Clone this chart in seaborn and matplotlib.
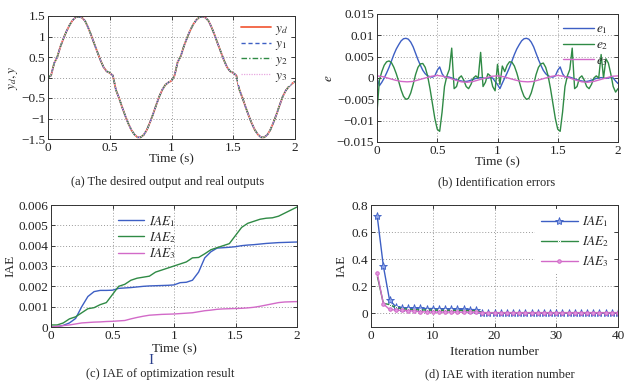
import numpy as np
import pandas as pd
import matplotlib
matplotlib.use("Agg")
import matplotlib.pyplot as plt
import seaborn as sns

# ---------------- data ----------------
# (a) outputs, t = 0 .. 2 step 0.025
t_a = [round(i * 0.025, 3) for i in range(81)]
y_d = [0.00, 0.05, 0.35, 0.50, 0.75, 0.95, 1.13, 1.28, 1.40, 1.47,
       1.49, 1.46, 1.38, 1.22, 1.03, 0.82, 0.62, 0.42, 0.25, 0.15,
       0.11, 0.05, -0.30, -0.50, -0.72, -0.93, -1.12, -1.28, -1.39, -1.46,
       -1.46, -1.40, -1.28, -1.10, -0.90, -0.68, -0.47, -0.30, -0.18, -0.12,
       -0.08, 0.05, 0.38, 0.52, 0.76, 0.96, 1.14, 1.29, 1.40, 1.47,
       1.49, 1.46, 1.38, 1.22, 1.03, 0.82, 0.62, 0.42, 0.25, 0.15,
       0.11, 0.05, -0.30, -0.50, -0.72, -0.93, -1.12, -1.28, -1.39, -1.46,
       -1.46, -1.40, -1.28, -1.10, -0.90, -0.68, -0.47, -0.32, -0.22, -0.15,
       -0.10]
y_1 = [0.00, 0.05, 0.35, 0.50, 0.75, 0.95, 1.13, 1.28, 1.40, 1.47,
       1.48, 1.46, 1.38, 1.22, 1.03, 0.82, 0.62, 0.42, 0.25, 0.15,
       0.11, 0.05, -0.30, -0.50, -0.72, -0.93, -1.12, -1.28, -1.39, -1.46,
       -1.46, -1.40, -1.28, -1.10, -0.90, -0.68, -0.47, -0.30, -0.18, -0.12,
       -0.08, 0.05, 0.38, 0.52, 0.76, 0.96, 1.14, 1.29, 1.40, 1.47,
       1.48, 1.46, 1.38, 1.22, 1.03, 0.82, 0.62, 0.42, 0.25, 0.15,
       0.11, 0.05, -0.30, -0.50, -0.72, -0.93, -1.12, -1.28, -1.39, -1.46,
       -1.46, -1.40, -1.28, -1.10, -0.90, -0.68, -0.47, -0.32, -0.22, -0.15,
       -0.10]
y_2 = [0.00, 0.05, 0.35, 0.50, 0.75, 0.95, 1.13, 1.28, 1.40, 1.47,
       1.49, 1.46, 1.38, 1.22, 1.03, 0.82, 0.62, 0.42, 0.25, 0.15,
       0.12, 0.05, -0.30, -0.50, -0.72, -0.93, -1.12, -1.28, -1.39, -1.46,
       -1.46, -1.40, -1.28, -1.10, -0.90, -0.68, -0.47, -0.30, -0.18, -0.12,
       -0.08, 0.05, 0.38, 0.52, 0.76, 0.96, 1.14, 1.29, 1.40, 1.47,
       1.49, 1.46, 1.38, 1.22, 1.03, 0.82, 0.62, 0.42, 0.25, 0.15,
       0.12, 0.05, -0.30, -0.50, -0.72, -0.93, -1.12, -1.28, -1.39, -1.46,
       -1.46, -1.40, -1.28, -1.10, -0.90, -0.68, -0.47, -0.32, -0.22, -0.15,
       -0.10]
y_3 = [0.00, 0.05, 0.35, 0.50, 0.75, 0.95, 1.13, 1.28, 1.40, 1.47,
       1.49, 1.46, 1.38, 1.22, 1.03, 0.82, 0.62, 0.42, 0.25, 0.15,
       0.11, 0.05, -0.30, -0.50, -0.72, -0.93, -1.12, -1.28, -1.39, -1.46,
       -1.46, -1.40, -1.28, -1.10, -0.90, -0.68, -0.47, -0.30, -0.18, -0.12,
       -0.08, 0.05, 0.38, 0.52, 0.76, 0.96, 1.14, 1.29, 1.40, 1.47,
       1.49, 1.46, 1.38, 1.22, 1.03, 0.82, 0.62, 0.42, 0.25, 0.15,
       0.11, 0.05, -0.30, -0.50, -0.72, -0.93, -1.12, -1.28, -1.39, -1.46,
       -1.46, -1.40, -1.28, -1.10, -0.90, -0.68, -0.47, -0.32, -0.22, -0.15,
       -0.10]

# (b) identification errors, t = 0 .. 2 step 0.02
t_b = [round(i * 0.02, 2) for i in range(101)]
e_1 = [0.0000, -0.0018, -0.0010, 0.0000, 0.0012, 0.0025, 0.0040, 0.0055, 0.0068, 0.0078,
       0.0087, 0.0092, 0.0093, 0.0091, 0.0084, 0.0073, 0.0058, 0.0043, 0.0030, 0.0018,
       0.0010, 0.0005, 0.0003, 0.0002, 0.0005, 0.0018, 0.0026, 0.0010, 0.0002, 0.0003,
       0.0002, 0.0000, -0.0002, -0.0004, -0.0006, -0.0007, -0.0008, -0.0008, -0.0007, -0.0005,
       -0.0003, -0.0001, 0.0000, 0.0001, 0.0000, -0.0001, 0.0000, 0.0001, 0.0000, -0.0008,
       -0.0015, -0.0025, -0.0012, 0.0000, 0.0012, 0.0025, 0.0040, 0.0055, 0.0068, 0.0078,
       0.0087, 0.0092, 0.0093, 0.0091, 0.0084, 0.0073, 0.0058, 0.0043, 0.0030, 0.0018,
       0.0010, 0.0005, 0.0003, 0.0002, 0.0005, 0.0018, 0.0026, 0.0010, 0.0002, 0.0003,
       0.0002, 0.0000, -0.0002, -0.0004, -0.0006, -0.0007, -0.0008, -0.0008, -0.0007, -0.0005,
       -0.0003, -0.0001, 0.0000, 0.0001, 0.0000, -0.0001, 0.0000, 0.0001, 0.0000, -0.0007,
       -0.0013]
e_2 = [-0.0080, -0.0005, 0.0015, 0.0030, 0.0038, 0.0040, 0.0036, 0.0025, 0.0010, -0.0008,
       -0.0028, -0.0043, -0.0050, -0.0048, -0.0035, -0.0015, 0.0008, 0.0025, 0.0033, 0.0034,
       0.0025, 0.0005, -0.0025, -0.0060, -0.0095, -0.0120, -0.0125, -0.0080, -0.0020, 0.0005,
       0.0020, 0.0070, -0.0025, -0.0020, 0.0000, 0.0005, -0.0005, -0.0020, -0.0025, -0.0015,
       0.0000, 0.0005, 0.0000, 0.0060, -0.0020, -0.0010, 0.0010, 0.0005, -0.0020, -0.0030,
       0.0032, -0.0015, 0.0028, 0.0015, 0.0030, 0.0038, 0.0037, 0.0028, 0.0012, -0.0008,
       -0.0028, -0.0043, -0.0050, -0.0048, -0.0035, -0.0015, 0.0008, 0.0025, 0.0033, 0.0035,
       0.0025, 0.0005, -0.0025, -0.0060, -0.0095, -0.0120, -0.0125, -0.0080, -0.0020, 0.0005,
       0.0020, 0.0070, -0.0025, -0.0020, 0.0000, 0.0005, -0.0005, -0.0020, -0.0025, -0.0015,
       0.0000, 0.0005, 0.0000, 0.0055, 0.0000, 0.0045, 0.0035, 0.0010, -0.0020, -0.0033,
       -0.0025]
t_e3 = [round(i * 0.05, 2) for i in range(41)]
e_3 = [0.0005, 0.0003, -0.0001, -0.0005, -0.0008, -0.0009, -0.0008, -0.0004, 0.0000, 0.0004,
       0.0006, 0.0004, 0.0000, -0.0005, -0.0009, -0.0010, -0.0008, -0.0004, 0.0000, 0.0004,
       0.0005, 0.0003, -0.0001, -0.0005, -0.0008, -0.0009, -0.0008, -0.0004, 0.0000, 0.0004,
       0.0006, 0.0004, 0.0000, -0.0005, -0.0009, -0.0010, -0.0008, -0.0004, 0.0000, 0.0004,
       0.0005]

# (c) IAE over time, t = 0 .. 2 step 0.05
t_c = [round(i * 0.05, 2) for i in range(41)]
iae_1 = [0.00000, 0.00002, 0.00008, 0.00020, 0.00042, 0.00100, 0.00150, 0.00174, 0.00180, 0.00180,
         0.00181, 0.00190, 0.00192, 0.00194, 0.00197, 0.00200, 0.00202, 0.00203, 0.00204, 0.00205,
         0.00207, 0.00218, 0.00220, 0.00230, 0.00270, 0.00340, 0.00370, 0.00388, 0.00390, 0.00392,
         0.00395, 0.00400, 0.00403, 0.00405, 0.00408, 0.00411, 0.00413, 0.00415, 0.00416, 0.00417,
         0.00418]
iae_2 = [0.00010, 0.00010, 0.00020, 0.00040, 0.00050, 0.00070, 0.00090, 0.00095, 0.00110, 0.00120,
         0.00160, 0.00200, 0.00210, 0.00230, 0.00240, 0.00245, 0.00250, 0.00270, 0.00280, 0.00290,
         0.00300, 0.00310, 0.00320, 0.00340, 0.00342, 0.00360, 0.00380, 0.00390, 0.00400, 0.00410,
         0.00450, 0.00490, 0.00510, 0.00520, 0.00530, 0.00535, 0.00537, 0.00545, 0.00560, 0.00575,
         0.00590]
iae_3 = [0.00000, 0.00003, 0.00007, 0.00010, 0.00015, 0.00020, 0.00022, 0.00024, 0.00025, 0.00027,
         0.00028, 0.00030, 0.00032, 0.00040, 0.00047, 0.00053, 0.00058, 0.00060, 0.00062, 0.00063,
         0.00064, 0.00066, 0.00068, 0.00070, 0.00075, 0.00080, 0.00083, 0.00087, 0.00089, 0.00090,
         0.00091, 0.00092, 0.00094, 0.00097, 0.00102, 0.00108, 0.00114, 0.00120, 0.00123, 0.00124,
         0.00125]

# (d) IAE vs iteration
iters = list(range(1, 41))
it_iae_1 = [0.72, 0.35, 0.10, 0.05, 0.040, 0.040, 0.038, 0.037, 0.036, 0.036,
            0.034, 0.032, 0.031, 0.030, 0.030, 0.029, 0.028, 0.005, 0.005, 0.005,
            0.005, 0.005, 0.005, 0.005, 0.005, 0.005, 0.005, 0.005, 0.005, 0.005,
            0.005, 0.005, 0.005, 0.005, 0.005, 0.005, 0.005, 0.005, 0.005, 0.005]
it_iae_2 = [0.28, 0.075, 0.065, 0.045, 0.035, 0.030, 0.028, 0.026, 0.025, 0.024,
            0.023, 0.022, 0.022, 0.021, 0.021, 0.020, 0.020, 0.006, 0.006, 0.006,
            0.006, 0.006, 0.006, 0.006, 0.006, 0.006, 0.006, 0.006, 0.006, 0.006,
            0.006, 0.006, 0.006, 0.006, 0.006, 0.006, 0.006, 0.006, 0.006, 0.006]
it_iae_3 = [0.30, 0.07, 0.030, 0.025, 0.022, 0.020, 0.018, 0.012, 0.011, 0.010,
            0.010, 0.010, 0.010, 0.009, 0.009, 0.009, 0.009, 0.006, 0.005, 0.005,
            0.005, 0.005, 0.005, 0.005, 0.005, 0.005, 0.005, 0.005, 0.005, 0.005,
            0.005, 0.005, 0.005, 0.005, 0.005, 0.005, 0.005, 0.005, 0.005, 0.005]

# ---------------- style ----------------
sns.set_theme(style="white")
plt.rcParams["font.family"] = ["Liberation Serif", "DejaVu Serif"]
plt.rcParams["mathtext.fontset"] = "stix"
plt.rcParams["axes.unicode_minus"] = True

FS = 9.5
CAP = 9.0
RED = "#f2603f"
BLUE = "#3d5fc4"
GREEN = "#2f8a45"
MAG = "#d26ac8"

fig = plt.figure(figsize=(6.33, 3.85), dpi=100)


def px_axes(l, r, t, b):
    W, H = 633.0, 385.0
    return fig.add_axes([l / W, (H - b) / H, (r - l) / W, (b - t) / H])


def style(ax):
    ax.grid(True, linestyle=(0, (1, 2)), color="#9a9a9a", linewidth=0.7)
    for s in ax.spines.values():
        s.set_color("#333333")
        s.set_linewidth(0.7)
    ax.tick_params(direction="in", length=3, width=0.6, labelsize=FS,
                   pad=2, top=True, right=True, bottom=True, left=True, colors="#222222")


# ---- (a)
ax = px_axes(48, 295, 16, 139)
sns.lineplot(x=t_a, y=y_d, ax=ax, color=RED, lw=1.3, label=r"$y_d$")
sns.lineplot(x=t_a, y=y_1, ax=ax, color=BLUE, lw=1.0, linestyle=(0, (3, 2)), label=r"$y_1$")
sns.lineplot(x=t_a, y=y_2, ax=ax, color=GREEN, lw=1.0, linestyle=(0, (4, 1.5, 1, 1.5)), label=r"$y_2$")
sns.lineplot(x=t_a, y=y_3, ax=ax, color="#e8a8e0", lw=0.9, linestyle=(0, (1, 1)), label=r"$y_3$")
ax.set_xlim(0, 2)
ax.set_ylim(-1.5, 1.5)
ax.set_xticks([0, 0.5, 1, 1.5, 2])
ax.set_xticklabels(["0", "0.5", "1", "1.5", "2"])
ax.set_yticks([-1.5, -1, -0.5, 0, 0.5, 1, 1.5])
ax.set_yticklabels(["\u22121.5", "\u22121", "\u22120.5", "0", "0.5", "1", "1.5"])
style(ax)
ax.set_xlabel("Time (s)", fontsize=FS, labelpad=0)
ax.set_ylabel(r"$y_d, y$", fontsize=FS, labelpad=1)
ax.legend(loc="upper right", fontsize=FS, frameon=True, facecolor="white",
          edgecolor="none", framealpha=1, handlelength=2.3, labelspacing=0.1,
          borderaxespad=0.3, handletextpad=0.3, borderpad=0.2)
fig.text(168 / 633, 1 - 182 / 385, "(a) The desired output and real outputs",
         ha="center", va="center", fontsize=CAP)

# ---- (b)
ax = px_axes(377, 618, 14, 142)
sns.lineplot(x=t_b, y=e_1, ax=ax, color=BLUE, lw=1.0, label=r"$e_1$")
sns.lineplot(x=t_b, y=e_2, ax=ax, color=GREEN, lw=1.0, label=r"$e_2$")
sns.lineplot(x=t_e3, y=e_3, ax=ax, color=MAG, lw=1.0, label=r"$e_3$")
ax.set_xlim(0, 2)
ax.set_ylim(-0.015, 0.015)
ax.set_xticks([0, 0.5, 1, 1.5, 2])
ax.set_xticklabels(["0", "0.5", "1", "1.5", "2"])
ax.set_yticks([-0.015, -0.01, -0.005, 0, 0.005, 0.01, 0.015])
ax.set_yticklabels(["\u22120.015", "\u22120.01", "\u22120.005", "0", "0.005", "0.01", "0.015"])
style(ax)
ax.set_xlabel("Time (s)", fontsize=FS, labelpad=0)
ax.set_ylabel(r"$e$", fontsize=FS, labelpad=1)
ax.legend(loc="upper right", fontsize=FS, frameon=False, handlelength=2.3,
          labelspacing=0.2, borderaxespad=0.3, handletextpad=0.2)
fig.text(497 / 633, 1 - 182 / 385, "(b) Identification errors",
         ha="center", va="center", fontsize=CAP)

# ---- (c)
ax = px_axes(51, 297, 205, 327)
sns.lineplot(x=t_c, y=iae_1, ax=ax, color=BLUE, lw=1.0, label=r"$IAE_1$")
sns.lineplot(x=t_c, y=iae_2, ax=ax, color=GREEN, lw=1.0, label=r"$IAE_2$")
sns.lineplot(x=t_c, y=iae_3, ax=ax, color=MAG, lw=1.0, label=r"$IAE_3$")
ax.set_xlim(0, 2)
ax.set_ylim(0, 0.006)
ax.set_xticks([0, 0.5, 1, 1.5, 2])
ax.set_xticklabels(["0", "0.5", "1", "1.5", "2"])
ax.set_yticks([0, 0.001, 0.002, 0.003, 0.004, 0.005, 0.006])
ax.set_yticklabels(["0", "0.001", "0.002", "0.003", "0.004", "0.005", "0.006"])
style(ax)
ax.set_xlabel("Time (s)", fontsize=FS, labelpad=1)
ax.set_ylabel("IAE", fontsize=FS, labelpad=1)
ax.legend(loc="upper left", bbox_to_anchor=(0.25, 0.97), fontsize=FS, frameon=False,
          handlelength=2.0, labelspacing=0.1, borderaxespad=0.0, handletextpad=0.4)
fig.text(151 / 633, 1 - 361 / 385, "I", ha="center", va="center", fontsize=11,
         color="#2b3f8c")
fig.text(160 / 633, 1 - 374 / 385, "(c) IAE of optimization result",
         ha="center", va="center", fontsize=CAP)

# ---- (d)
ax = px_axes(371, 618, 205, 327)
sns.lineplot(x=iters, y=it_iae_1, ax=ax, color=BLUE, lw=1.0, marker="*", markersize=6,
             markerfacecolor="#8fa4e8", markeredgecolor=BLUE, markeredgewidth=0.6, label=r"$IAE_1$")
sns.lineplot(x=iters, y=it_iae_2, ax=ax, color=GREEN, lw=1.0, marker=".", markersize=3,
             label=r"$IAE_2$")
sns.lineplot(x=iters, y=it_iae_3, ax=ax, color=MAG, lw=1.0, marker="o", markersize=2.5,
             markerfacecolor="#e39be0", markeredgecolor=MAG, label=r"$IAE_3$")
ax.set_xlim(0, 40)
ax.set_ylim(-0.1, 0.8)
ax.set_xticks([0, 10, 20, 30, 40])
ax.set_yticks([0, 0.2, 0.4, 0.6, 0.8])
ax.set_yticklabels(["0", "0.2", "0.4", "0.6", "0.8"])
style(ax)
ax.set_xlabel("Iteration number", fontsize=FS, labelpad=3)
ax.set_ylabel("IAE", fontsize=FS, labelpad=3)
ax.legend(loc="upper right", fontsize=FS, frameon=True, facecolor="white",
          edgecolor="none", framealpha=1, handlelength=2.8, labelspacing=0.4,
          borderaxespad=0.3, handletextpad=0.3)
fig.text(500 / 633, 1 - 374 / 385, "(d) IAE with iteration number",
         ha="center", va="center", fontsize=CAP)

fig.savefig("out.png", dpi=100, facecolor="white")
